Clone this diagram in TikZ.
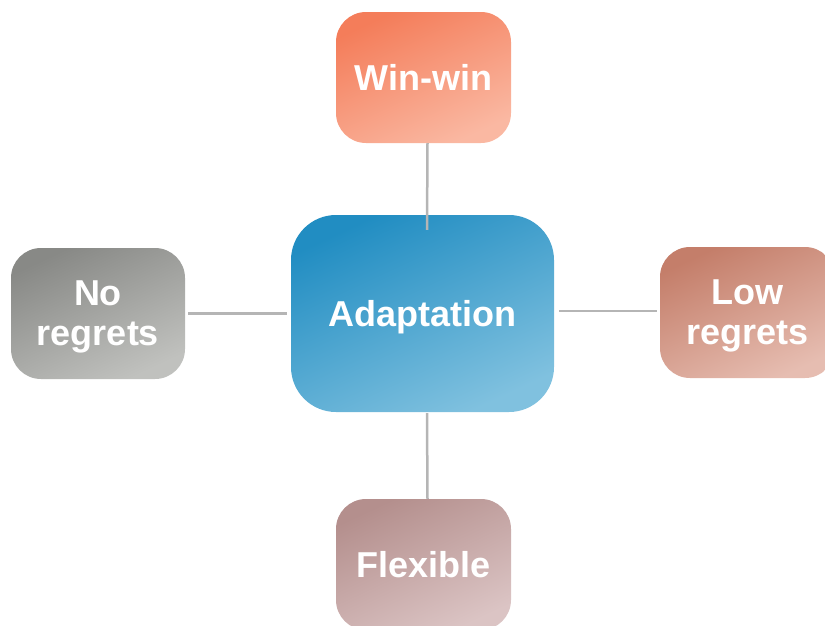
\documentclass[tikz,border=0pt]{standalone}
\usepackage{fontspec}
\setmainfont{Liberation Sans}
\definecolor{winA}{HTML}{F47D5A}
\definecolor{winB}{HTML}{FAB8A2}
\definecolor{adA}{HTML}{218DC2}
\definecolor{adB}{HTML}{80C1DF}
\definecolor{noA}{HTML}{888986}
\definecolor{noB}{HTML}{C0C1BE}
\definecolor{lowA}{HTML}{C47E6A}
\definecolor{lowB}{HTML}{E6BDB1}
\definecolor{flexA}{HTML}{B48F8D}
\definecolor{flexB}{HTML}{DBC4C4}
\definecolor{linec}{HTML}{B5B5B5}
\tikzset{
  box/.style={rectangle, rounded corners=30pt, minimum width=175pt, minimum height=131pt,
    inner sep=0pt, text=white, align=center, text depth=0pt,
    font=\fontsize{36}{40}\selectfont\bfseries},
  bigbox/.style={box, rounded corners=45pt, minimum width=263pt, minimum height=197pt},
  grad/.style n args={2}{top color=#1, bottom color=#2, shading angle=25},
  conn/.style={draw=linec, line width=2.5pt}
}
\begin{document}
\begin{tikzpicture}[x=1pt,y=-1pt]
\useasboundingbox (0,0) rectangle (825,625);
\node[box, grad={winA}{winB}] (win) at (423.5,77.5) {Win-win};
\node[bigbox, grad={adA}{adB}] (ad) at (422.5,313.5) {Adaptation};
\node[box, minimum width=174pt, grad={noA}{noB}] (no) at (98,313.5) {No\\regrets};
\node[box, grad={lowA}{lowB}] (low) at (747.5,312.5) {Low\\regrets};
\node[box, grad={flexA}{flexB}] (flex) at (423.5,564.5) {Flexible};
\draw[conn] ([xshift=4pt]win.south) -- ([xshift=4.5pt,yshift=-15pt]ad.north);
\draw[conn] ([xshift=4.5pt,yshift=-1pt]ad.south) -- ([xshift=4pt]flex.north);
\draw[conn] ([xshift=3pt]no.east) -- ([xshift=-4pt]ad.west);
\draw[conn] ([xshift=5pt,yshift=2.5pt]ad.east) -- ([xshift=-3pt,yshift=1.5pt]low.west);
\end{tikzpicture}
\end{document}
